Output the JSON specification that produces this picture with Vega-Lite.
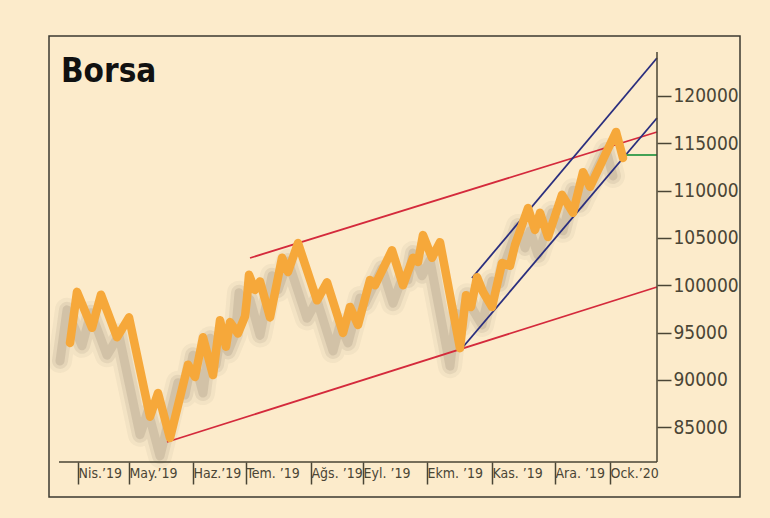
{
  "$schema": "https://vega.github.io/schema/vega-lite/v6.json",
  "width": 691,
  "height": 461,
  "autosize": {"type": "none"},
  "padding": {"left": 49, "top": 36, "right": 30, "bottom": 21},
  "background": "#FCEBCB",
  "title": {"text": "Borsa", "anchor": "start", "frame": "group", "font": "DejaVu Sans Condensed", "fontSize": 33, "fontWeight": "bold", "color": "#111111", "dx": 12, "dy": 57},
  "config": {
    "view": {"stroke": "#3b3a30", "strokeWidth": 1.5},
    "font": "DejaVu Sans Condensed"
  },
  "datasets": {
    "borsa": [
      {"t": 5.5, "v": 93900}, {"t": 9, "v": 99300}, {"t": 16.5, "v": 95500}, {"t": 21, "v": 99000},
      {"t": 29, "v": 94500}, {"t": 35, "v": 96600}, {"t": 45.5, "v": 86100}, {"t": 49.5, "v": 88600},
      {"t": 55.5, "v": 83850}, {"t": 64.5, "v": 91600}, {"t": 68, "v": 90300}, {"t": 72, "v": 94500},
      {"t": 77, "v": 90500}, {"t": 80.5, "v": 96300}, {"t": 83.5, "v": 93500}, {"t": 85.5, "v": 96100},
      {"t": 89.5, "v": 94900}, {"t": 93, "v": 96700}, {"t": 94, "v": 98650}, {"t": 95, "v": 101100},
      {"t": 98, "v": 99500}, {"t": 100.5, "v": 100400}, {"t": 105.5, "v": 96600}, {"t": 111.5, "v": 102900},
      {"t": 114.5, "v": 101400}, {"t": 119.5, "v": 104450}, {"t": 129, "v": 98400}, {"t": 134, "v": 100300},
      {"t": 142, "v": 94950}, {"t": 145.5, "v": 97700}, {"t": 149.5, "v": 95800}, {"t": 155.5, "v": 100550},
      {"t": 158, "v": 100000}, {"t": 166.5, "v": 103700}, {"t": 172, "v": 100000}, {"t": 177, "v": 102900},
      {"t": 179.5, "v": 102450}, {"t": 182, "v": 105300}, {"t": 186.5, "v": 102900}, {"t": 190.5, "v": 104550},
      {"t": 200.5, "v": 93350}, {"t": 203.5, "v": 98950}, {"t": 206, "v": 97700}, {"t": 209, "v": 100850},
      {"t": 212, "v": 99300}, {"t": 216.5, "v": 97700}, {"t": 221.5, "v": 102350}, {"t": 225.5, "v": 102050},
      {"t": 228, "v": 104250}, {"t": 231.5, "v": 106350}, {"t": 234.5, "v": 108150}, {"t": 238, "v": 105850},
      {"t": 240.5, "v": 107650}, {"t": 244.5, "v": 105100}, {"t": 251.5, "v": 109550}, {"t": 257, "v": 107650},
      {"t": 262, "v": 111950}, {"t": 265.5, "v": 110400}, {"t": 278.5, "v": 116200}, {"t": 282, "v": 113450}
    ],
    "channels": [
      {"id": "red_top", "color": "#D42A3C", "t": 95.5, "v": 102877},
      {"id": "red_top", "color": "#D42A3C", "t": 299, "v": 116195},
      {"id": "red_bottom", "color": "#D42A3C", "t": 54, "v": 83428},
      {"id": "red_bottom", "color": "#D42A3C", "t": 299, "v": 99811},
      {"id": "blue_low", "color": "#2A2E7E", "t": 202, "v": 93469},
      {"id": "blue_low", "color": "#2A2E7E", "t": 299, "v": 117675},
      {"id": "blue_high", "color": "#2A2E7E", "t": 206.5, "v": 100763},
      {"id": "blue_high", "color": "#2A2E7E", "t": 299, "v": 124017},
      {"id": "green", "color": "#2E9A48", "t": 283.5, "v": 113764},
      {"id": "green", "color": "#2E9A48", "t": 299, "v": 113764}
    ],
    "axislines": [
      {"t": 0, "t2": 299, "v": 81314, "v2": 81314},
      {"t": 299, "t2": 299, "v": 81314, "v2": 124651}
    ]
  },
  "encoding": {
    "x": {
      "field": "t", "type": "quantitative", "title": null,
      "scale": {"domain": [-5, 340.5], "nice": false, "zero": false},
      "axis": {
        "orient": "bottom", "offset": -35, "domain": false, "grid": false,
        "values": [9.5, 35, 67, 93.5, 126, 152, 184, 216.5, 248, 275.5],
        "tickSize": 22, "tickColor": "#4a4535", "tickWidth": 1.5,
        "labelAlign": "left", "labelBaseline": "top", "labelPadding": -18, "labelDx": 2,
        "labelOverlap": false, "labelBound": false,
        "labelFontSize": 14, "labelColor": "#4a4535", "labelFont": "DejaVu Sans Condensed",
        "labelExpr": "datum.value < 20 ? 'Nis.’19' : datum.value < 50 ? 'May.’19' : datum.value < 80 ? 'Haz.’19' : datum.value < 110 ? 'Tem. ’19' : datum.value < 140 ? 'Ağs. ’19' : datum.value < 170 ? 'Eyl. ’19' : datum.value < 200 ? 'Ekm. ’19' : datum.value < 230 ? 'Kas. ’19' : datum.value < 260 ? 'Ara. ’19' : 'Ock.’20'"
      }
    },
    "y": {
      "field": "v", "type": "quantitative", "title": null,
      "scale": {"domain": [77614, 126342], "nice": false, "zero": false},
      "axis": {
        "orient": "right", "offset": -83, "domain": false, "grid": false,
        "values": [85000, 90000, 95000, 100000, 105000, 110000, 115000, 120000],
        "format": "d", "tickSize": 14, "tickColor": "#4a4535", "tickWidth": 1.5,
        "labelOverlap": false,
        "labelPadding": 2, "labelFontSize": 19, "labelColor": "#4a4535", "labelFont": "DejaVu Sans Condensed"
      }
    }
  },
  "layer": [
    {
      "data": {"name": "borsa"},
      "mark": {"type": "line", "color": "#6e6452", "strokeWidth": 24, "opacity": 0.06, "xOffset": -10, "yOffset": 18, "strokeJoin": "round", "strokeCap": "round"}
    },
    {
      "data": {"name": "borsa"},
      "mark": {"type": "line", "color": "#6e6452", "strokeWidth": 16, "opacity": 0.1, "xOffset": -10, "yOffset": 18, "strokeJoin": "round", "strokeCap": "round"}
    },
    {
      "data": {"name": "borsa"},
      "mark": {"type": "line", "color": "#6e6452", "strokeWidth": 9, "opacity": 0.16, "xOffset": -10, "yOffset": 18, "strokeJoin": "round", "strokeCap": "round"}
    },
    {
      "data": {"name": "channels"},
      "mark": {"type": "line", "strokeWidth": 1.8},
      "encoding": {
        "detail": {"field": "id", "type": "nominal"},
        "color": {"field": "color", "type": "nominal", "scale": null}
      }
    },
    {
      "data": {"name": "borsa"},
      "mark": {"type": "line", "color": "#F6A83A", "strokeWidth": 8.5, "strokeJoin": "round", "strokeCap": "round"}
    },
    {
      "data": {"name": "axislines"},
      "mark": {"type": "rule", "color": "#4a4535", "strokeWidth": 1.5},
      "encoding": {
        "x2": {"field": "t2"},
        "y2": {"field": "v2"}
      }
    }
  ]
}
